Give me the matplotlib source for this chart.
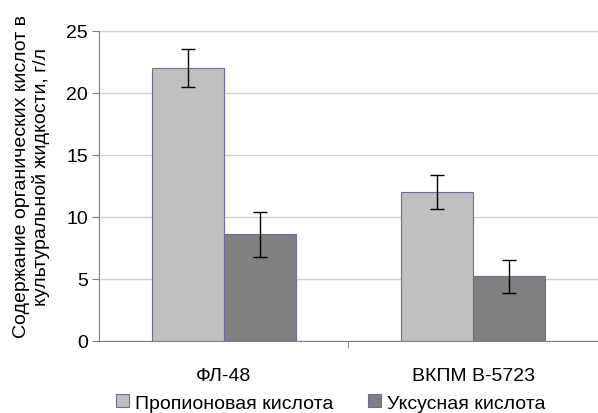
import numpy as np
import matplotlib.pyplot as plt

plt.rcParams['font.family'] = ['Liberation Sans', 'DejaVu Sans']

strains = ['ФЛ-48', 'ВКПМ В-5723']
propionic = [22.0, 12.0]
propionic_err = [1.5, 1.4]
acetic = [8.6, 5.2]
acetic_err = [1.8, 1.3]

fig = plt.figure(figsize=(5.98, 4.14), dpi=100)
ax = fig.add_axes([0.1656, 0.174, 0.834, 0.749])

x = np.arange(len(strains))
w = 0.288
ax.bar(x - w / 2, propionic, w, color='#c0c0c0', edgecolor='#6b6b9e', linewidth=0.8,
       yerr=propionic_err, capsize=4.7, error_kw=dict(elinewidth=1, capthick=1, ecolor='black'),
       label='Пропионовая кислота', zorder=2)
ax.bar(x + w / 2, acetic, w, color='#808080', edgecolor='#6b6b9e', linewidth=0.8,
       yerr=acetic_err, capsize=4.7, error_kw=dict(elinewidth=1, capthick=1, ecolor='black'),
       label='Уксусная кислота', zorder=2)

ax.set_xlim(-0.5, 1.5)
ax.set_ylim(0, 25)
ax.set_yticks(range(0, 26, 5))
ax.yaxis.grid(True, color='#d0d0d0', linewidth=1, zorder=0)
ax.set_axisbelow(True)

ax.set_xticks(x)
ax.set_xticklabels(strains, fontsize=14)
ax.set_xticks([0.5, 1.5], minor=True)
ax.tick_params(axis='x', which='major', length=0, pad=19)
ax.tick_params(axis='x', which='minor', length=5, color='#808080')
ax.tick_params(axis='y', labelsize=14, length=5, color='#808080', pad=3)

for s in ['top', 'right']:
    ax.spines[s].set_visible(False)
for s in ['left', 'bottom']:
    ax.spines[s].set_color('#808080')

fig.text(31.5 / 598, 1 - 177 / 414, 'Содержание органических кислот в\nкультуральной жидкости, г/л',
         fontsize=14, rotation=90, ha='center', va='center', linespacing=1.15,
         multialignment='center')

fig.legend(loc='center', bbox_to_anchor=(0.553, 1 - 404 / 414), ncol=2, frameon=False,
           fontsize=14, handlelength=0.65, handleheight=0.65, handletextpad=0.3,
           columnspacing=1.8, borderaxespad=0, borderpad=0)

fig.savefig('out.png', dpi=100)
